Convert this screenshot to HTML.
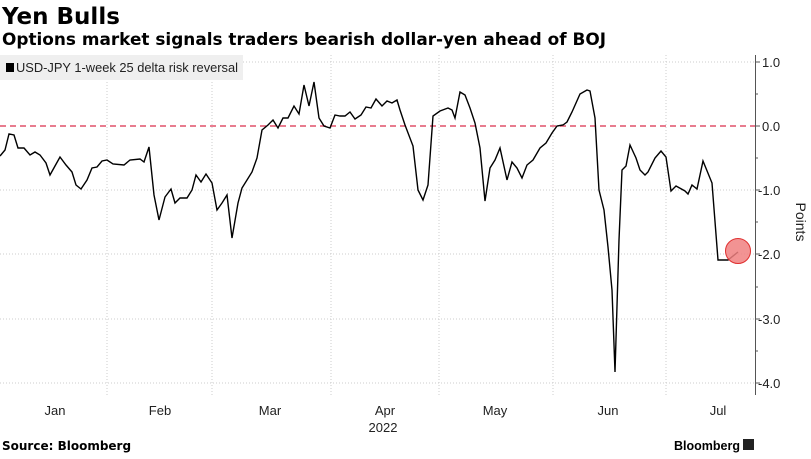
<!DOCTYPE html>
<html><head><meta charset="utf-8"><style>
body{margin:0;background:#fff;width:811px;height:454px;overflow:hidden;font-family:"Liberation Sans",sans-serif}
</style></head><body>
<svg width="811" height="454" xmlns="http://www.w3.org/2000/svg" font-family="Liberation Sans, sans-serif">
<text x="2" y="24" font-size="23" font-weight="bold" font-family="DejaVu Sans, sans-serif">Yen Bulls</text>
<text x="2" y="45" font-size="16.5" font-weight="bold" font-family="DejaVu Sans, sans-serif" textLength="604" lengthAdjust="spacingAndGlyphs">Options market signals traders bearish dollar-yen ahead of BOJ</text>
<g stroke="#ccc" stroke-dasharray="1,2" stroke-width="1">
<line x1="0" y1="62" x2="755" y2="62"/><line x1="0" y1="190" x2="755" y2="190"/>
<line x1="0" y1="254" x2="755" y2="254"/><line x1="0" y1="319" x2="755" y2="319"/>
<line x1="0" y1="383" x2="755" y2="383"/>
<line x1="107" y1="55" x2="107" y2="395"/><line x1="212" y1="55" x2="212" y2="395"/>
<line x1="331" y1="55" x2="331" y2="395"/><line x1="439" y1="55" x2="439" y2="395"/>
<line x1="553" y1="55" x2="553" y2="395"/><line x1="666" y1="55" x2="666" y2="395"/>
</g>
<rect x="0" y="55" width="243" height="25" fill="#efefef"/>
<rect x="6" y="63" width="8" height="9" fill="#000"/>
<text x="16" y="72" font-size="12.5" fill="#222" textLength="222" lengthAdjust="spacingAndGlyphs">USD-JPY 1-week 25 delta risk reversal</text>
<line x1="0" y1="126" x2="755" y2="126" stroke="#e0506a" stroke-width="1.5" stroke-dasharray="6,4"/>
<polyline fill="none" stroke="#000" stroke-width="1.4" points="0,156 5,150 9,134 14,135 18,148 24,148 30,155 35,152 40,155 46,163 50,175 55,166 60,157 66,165 72,172 76,185 81,189 87,180 92,168 97,167 102,161 107,160 113,164 124,165 130,160 140,159 144,162 149,147 154,195 159,220 165,197 171,189 175,203 180,198 187,198 192,190 196,175 201,182 206,174 212,183 217,210 222,203 227,195 232,238 238,203 242,188 247,180 252,172 257,158 262,130 268,125 273,120 278,128 283,118 288,118 294,106 299,114 304,85 309,106 314,82 319,118 324,126 330,128 335,115 340,116 345,116 350,112 355,119 361,115 366,107 371,108 376,99 382,106 387,101 392,103 397,100 400,110 405,125 413,146 418,190 423,200 428,185 433,116 440,111 448,108 452,110 455,118 460,92 465,95 470,108 475,123 480,148 485,201 490,168 495,160 500,148 507,180 512,162 517,168 522,178 527,165 533,160 540,148 546,143 552,133 557,126 563,125 567,122 572,112 580,94 587,90 590,91 595,118 599,190 604,210 608,247 612,290 615,372 619,240 622,170 626,166 630,145 636,158 640,170 645,175 648,172 655,158 661,151 666,157 671,191 676,186 685,191 688,194 692,185 697,189 703,161 712,183 718,260 722,260 728,260 738,252"/>
<circle cx="738" cy="251" r="12.5" fill="#f08080" fill-opacity="0.85" stroke="#e03030" stroke-width="1"/>
<line x1="755.5" y1="55" x2="755.5" y2="395" stroke="#555" stroke-width="1"/>
<g stroke="#555"><line x1="755" y1="62" x2="760" y2="62"/><line x1="755" y1="94" x2="758" y2="94"/><line x1="755" y1="126" x2="760" y2="126"/><line x1="755" y1="158" x2="758" y2="158"/><line x1="755" y1="190" x2="760" y2="190"/><line x1="755" y1="222" x2="758" y2="222"/><line x1="755" y1="254" x2="760" y2="254"/><line x1="755" y1="287" x2="758" y2="287"/><line x1="755" y1="319" x2="760" y2="319"/><line x1="755" y1="351" x2="758" y2="351"/><line x1="755" y1="383" x2="760" y2="383"/></g>
<g font-size="13" fill="#222">
<text x="762" y="67">1.0</text><text x="762" y="131">0.0</text><text x="758" y="195">-1.0</text>
<text x="758" y="259">-2.0</text><text x="758" y="324">-3.0</text><text x="758" y="388">-4.0</text>
</g>
<text x="796" y="222" font-size="14" fill="#222" transform="rotate(90 796 222)" text-anchor="middle">Points</text>
<g font-size="13" fill="#222" text-anchor="middle">
<text x="55" y="415">Jan</text><text x="160" y="415">Feb</text><text x="270" y="415">Mar</text>
<text x="385" y="415">Apr</text><text x="495" y="415">May</text><text x="608" y="415">Jun</text>
<text x="718" y="415">Jul</text><text x="383" y="432">2022</text>
</g>
<text x="2" y="450" font-size="12" font-weight="bold" font-family="DejaVu Sans, sans-serif">Source: Bloomberg</text>
<text x="740" y="450" font-size="12.5" font-weight="bold" text-anchor="end">Bloomberg</text>
<rect x="743" y="439" width="11" height="11" fill="#222"/>
</svg>
</body></html>
